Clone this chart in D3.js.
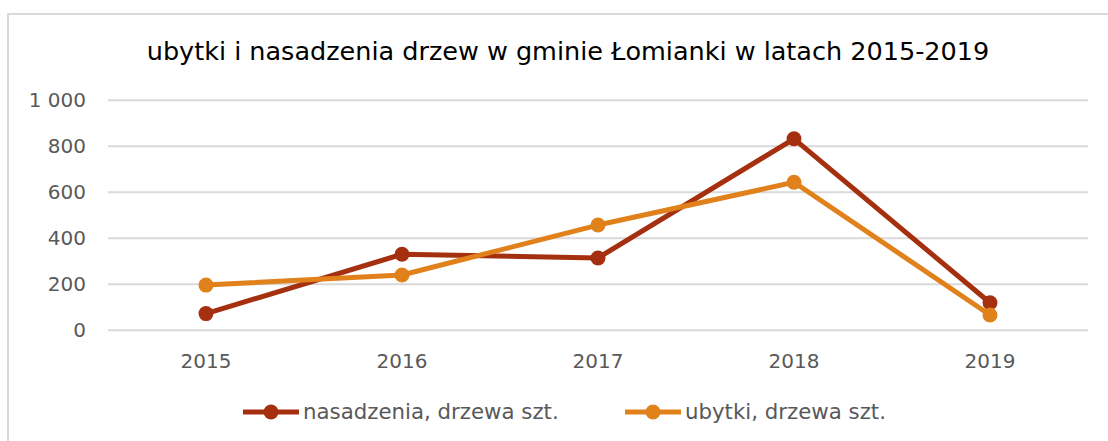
<!DOCTYPE html>
<html>
<head>
<meta charset="utf-8">
<script src="https://cdn.jsdelivr.net/npm/d3@7"></script>
<style>
  body { margin: 0; background: #fff; }
  svg { display: block; font-family: "DejaVu Sans", sans-serif; }
</style>
</head>
<body>
<svg id="chart" width="1108" height="441"></svg>
<script>
var years = ["2015", "2016", "2017", "2018", "2019"];
var nasadzenia = [70, 328, 312, 830, 117];
var ubytki = [194, 238, 455, 641, 64];
var yTicks = [0, 200, 400, 600, 800, 1000];
var seriesNames = ["nasadzenia, drzewa szt.", "ubytki, drzewa szt."];
var seriesColors = ["#a5300f", "#e0811b"];

var svg = d3.select("#chart");
var textColor = "#595959";
var fontFam = "DejaVu Sans, sans-serif";

// chart frame
svg.append("rect")
  .attr("x", 8).attr("y", 14)
  .attr("width", 1108).attr("height", 441)
  .attr("fill", "#fff")
  .attr("stroke", "#d9d9d9").attr("stroke-width", 2);

svg.append("text")
  .attr("x", 568).attr("y", 60)
  .attr("text-anchor", "middle")
  .attr("font-size", 25.5)
  .attr("fill", "#000")
  .text("ubytki i nasadzenia drzew w gminie Łomianki w latach 2015-2019");

var x = d3.scaleBand().domain(years).range([108, 1088]);
var y = d3.scaleLinear().domain([0, 1000]).range([329.7, 99.7]);

var fmt = function(d) { return d3.format(",")(d).replace(",", " "); };

var yAxis = svg.append("g")
  .attr("transform", "translate(108,0)")
  .call(d3.axisLeft(y).tickValues(yTicks).tickSize(-980).tickPadding(22).tickFormat(fmt));
yAxis.select(".domain").remove();
yAxis.selectAll("line").attr("stroke", "#d9d9d9").attr("stroke-width", 2);
yAxis.selectAll("text").attr("fill", textColor).attr("font-size", 20).attr("font-family", fontFam);

var xAxis = svg.append("g")
  .attr("transform", "translate(0,329.7)")
  .call(d3.axisBottom(x).tickSize(0).tickPadding(24));
xAxis.select(".domain").remove();
xAxis.selectAll("text").attr("fill", textColor).attr("font-size", 20).attr("font-family", fontFam);

var line = d3.line()
  .x(function(d, i) { return x(years[i]) + x.bandwidth() / 2; })
  .y(function(d) { return y(d); });

[nasadzenia, ubytki].forEach(function(vals, k) {
  svg.append("path")
    .attr("d", line(vals))
    .attr("fill", "none")
    .attr("stroke", seriesColors[k])
    .attr("stroke-width", 5)
    .attr("stroke-linejoin", "round");
  svg.selectAll(null)
    .data(vals)
    .enter().append("circle")
    .attr("cx", function(d, i) { return x(years[i]) + x.bandwidth() / 2; })
    .attr("cy", function(d) { return y(d); })
    .attr("r", 7.5)
    .attr("fill", seriesColors[k]);
});

// legend
var legendX = [243, 625];
seriesNames.forEach(function(name, k) {
  var g = svg.append("g").attr("transform", "translate(" + legendX[k] + ",412)");
  g.append("line")
    .attr("x1", 0).attr("x2", 56)
    .attr("stroke", seriesColors[k]).attr("stroke-width", 5);
  g.append("circle").attr("cx", 28).attr("r", 7.5).attr("fill", seriesColors[k]);
  g.append("text")
    .attr("x", 60).attr("y", 7)
    .attr("font-size", 21.3)
    .attr("fill", textColor)
    .text(name);
});
</script>
</body>
</html>
